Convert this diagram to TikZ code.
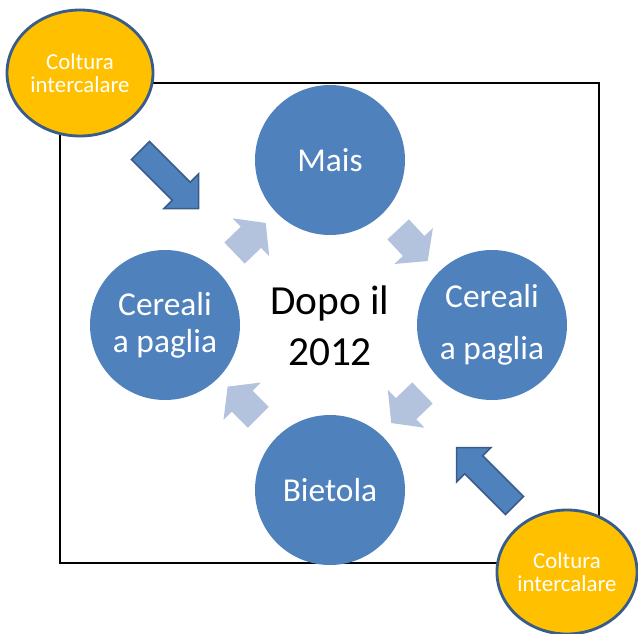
\documentclass[tikz,border=0pt]{standalone}
\usepackage{fontspec}
\setmainfont{Carlito}
\usetikzlibrary{shapes.geometric,shapes.arrows,positioning}
\definecolor{blu}{HTML}{4F81BD}
\definecolor{blubordo}{HTML}{385D8A}
\definecolor{azzurro}{HTML}{B3C3DE}
\definecolor{giallo}{HTML}{FFC000}

\begin{document}
\begin{tikzpicture}[x=0.3mm,y=-0.3mm,semithick]
\tikzstyle{fase}=[circle, fill=blu, draw=none, text=white,
minimum size=45mm, inner sep=0pt, align=center,
font=\fontsize{28.5}{31}\selectfont]
\tikzstyle{coltura}=[ellipse, fill=giallo, draw=blubordo,
line width=0.85mm, text=white, inner sep=0pt, align=center,
font=\fontsize{19.5}{20}\selectfont]
\tikzstyle{freccina}=[single arrow, fill=azzurro, draw=none,
minimum height=13mm, inner xsep=0pt, inner ysep=4.3mm,
single arrow head extend=3.5mm, single arrow tip angle=104]
\tikzstyle{freccia}=[single arrow, fill=blu, draw=blubordo,
line width=0.45mm, minimum height=24.6mm, inner xsep=0pt,
inner ysep=3.6mm, single arrow head extend=3.5mm,
single arrow tip angle=90]

\useasboundingbox (0,0) rectangle (638,633);

\draw[black, line width=0.35mm] (60,83) rectangle (599,563);

% ciclo
\node[fase] (mais) at (330,160) {Mais};
\node[fase, font=\fontsize{28.5}{44}\selectfont]
(cerealiD) at (492,325) {Cereali\\a paglia};
\node[fase] (bietola) at (330,490) {Bietola};
\node[fase, font=\fontsize{28.5}{31.6}\selectfont]
(cerealiS) at (165,325) {Cereali\\a paglia};

\node[font=\fontsize{35.3}{44}\selectfont, align=center]
(dopo) at (330,326) {Dopo il\\2012};

\node[freccina, rotate=-47] (f1) at (409,241) {};
\node[freccina, rotate=-136] (f2) at (411,404) {};
\node[freccina, rotate=135] (f3) at (247,406) {};
\node[freccina, rotate=44] (f4) at (246,242) {};

% colture intercalari
\node[coltura, minimum width=43.8mm, minimum height=37.8mm]
(colt1) at (80,73) {Coltura\\intercalare};
\node[coltura, minimum width=42mm, minimum height=37.2mm]
(colt2) at (567,572) {Coltura\\intercalare};

\node[freccia, rotate=-45] (ingresso1) at (165,175) {};
\node[freccia, rotate=135] (ingresso2) at (490,481) {};

\end{tikzpicture}
\end{document}
